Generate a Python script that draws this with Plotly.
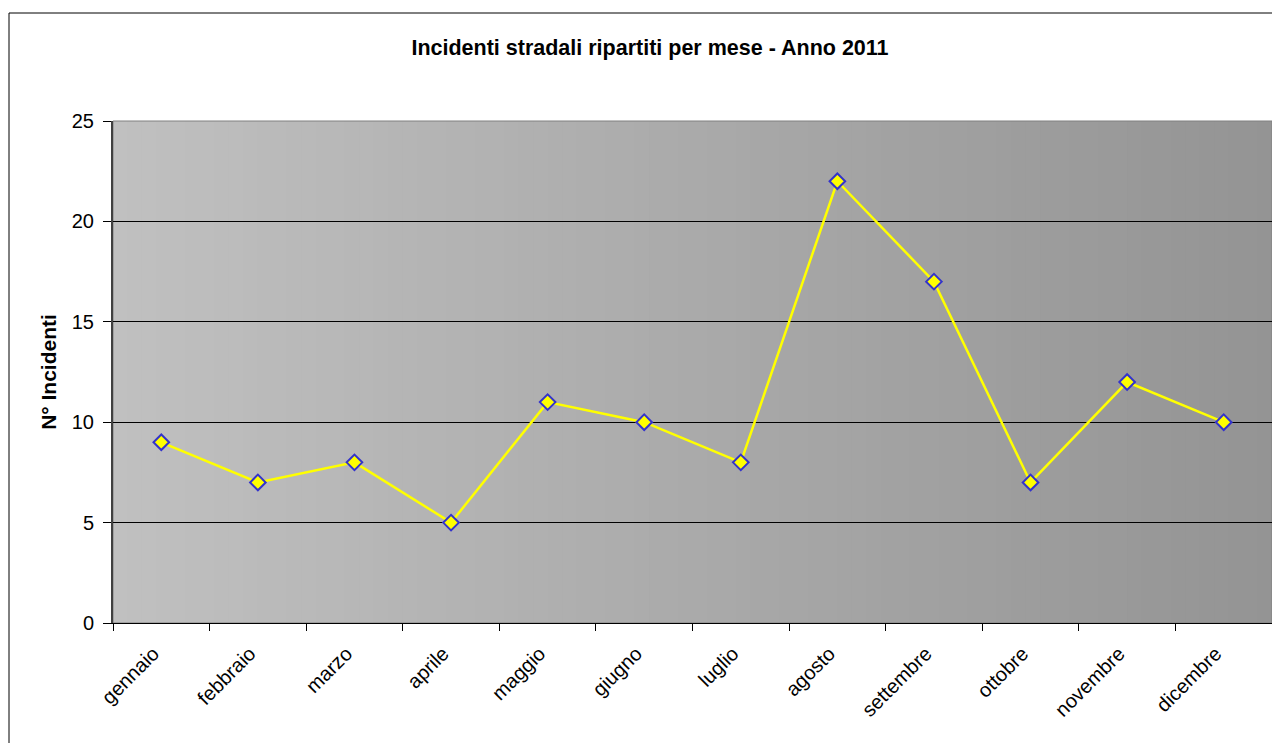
import plotly.graph_objects as go

months = ["gennaio", "febbraio", "marzo", "aprile", "maggio", "giugno",
          "luglio", "agosto", "settembre", "ottobre", "novembre", "dicembre"]
incidenti = [9, 7, 8, 5, 11, 10, 8, 22, 17, 7, 12, 10]
y_ticks = [0, 5, 10, 15, 20, 25]

FONT = "Liberation Sans, Arial, sans-serif"

fig = go.Figure()
fig.add_trace(go.Scatter(
    x=months, y=incidenti, mode="lines+markers",
    line=dict(color="#ffff00", width=2.5),
    marker=dict(symbol="diamond", size=12, color="#ffff00",
                line=dict(color="#3333cc", width=2)),
    showlegend=False, cliponaxis=False,
))

# gradient background (light gray left -> darker gray right)
shapes = []
n = 80
c0, c1 = 192, 148
for i in range(n):
    t = i / (n - 1)
    v = round(c0 + (c1 - c0) * t)
    col = f"rgb({v},{v},{v})"
    shapes.append(dict(type="rect", xref="x domain", yref="y domain",
                       x0=i / n, x1=(i + 1) / n + 0.001, y0=0, y1=1,
                       fillcolor=col, line=dict(width=0), layer="below"))
# plot area border
shapes.append(dict(type="rect", xref="x domain", yref="y domain",
                   x0=0, x1=1, y0=0, y1=1,
                   line=dict(color="#808080", width=1), layer="below"))
# outer chart border
shapes.append(dict(type="rect", xref="paper", yref="paper",
                   x0=(9 - 113) / 1159, x1=1.2, y0=-0.5, y1=(623 - 13) / 502,
                   line=dict(color="#000000", width=1), fillcolor="rgba(0,0,0,0)"))

W, H = 1272, 735  # page has an 8px body margin
fig.update_layout(
    width=W, height=H,
    margin=dict(l=105, r=8, t=113, b=120, pad=0),
    paper_bgcolor="white", plot_bgcolor="rgba(0,0,0,0)",
    font=dict(family=FONT, color="black"),
    title=dict(text="<b>Incidenti stradali ripartiti per mese - Anno 2011</b>",
               x=642 / W, xanchor="center", y=1 - 39 / H, yanchor="middle",
               font=dict(size=21.5, family=FONT)),
    shapes=shapes,
    xaxis=dict(
        type="category", tickangle=-45, tickfont=dict(size=20),
        ticks="outside", ticklen=7, tickcolor="black", tickson="boundaries",
        ticklabelstandoff=10, ticklabelshift=-8,
        showline=True, linecolor="black", linewidth=1, showgrid=False,
        range=[-0.5, 11.5],
    ),
    yaxis=dict(
        range=[0, 25], tickvals=y_ticks, tickfont=dict(size=20),
        ticks="outside", ticklen=8, tickcolor="black", ticklabelstandoff=5,
        showline=True, linecolor="#404040", linewidth=2,
        showgrid=True, gridcolor="#000000", gridwidth=1, zeroline=False,
        title=dict(text="<b>N° Incidenti</b>", font=dict(size=21), standoff=9),
    ),
)

fig.write_html("out.html")
